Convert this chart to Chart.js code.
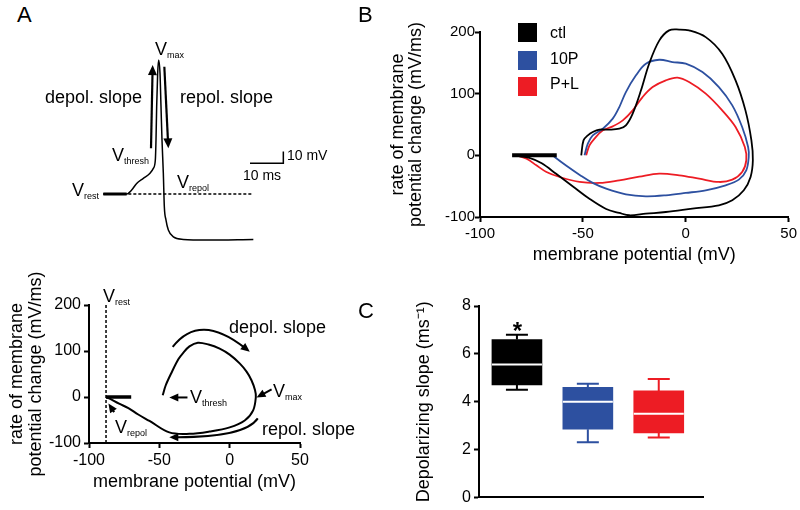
<!DOCTYPE html>
<html>
<head>
<meta charset="utf-8">
<script src="https://cdn.jsdelivr.net/npm/chart.js@4.4.1/dist/chart.umd.min.js"></script>
<style>
  html, body { margin: 0; padding: 0; background: #fff; }
  #page { position: relative; width: 800px; height: 510px; overflow: hidden; font-family: 'Liberation Sans', Arial, sans-serif; color: #000; }
  canvas { position: absolute; }
  .lbl { position: absolute; white-space: nowrap; line-height: 1; font-size: 18px; }
  .lbl sub { font-size: 9px; vertical-align: -3px; line-height: 0; }
  .sm { font-size: 14px; }
  .panel { position: absolute; font-size: 22px; line-height: 1; }
  .sw { position: absolute; left: 518px; width: 19px; height: 19px; }
  .leg { position: absolute; left: 550px; font-size: 16px; line-height: 1; }
</style>
</head>
<body>
<div id="page">
  <canvas id="apTrace" width="200" height="200" style="left:100px;top:50px"></canvas>
  <canvas id="phaseA" width="370" height="250" style="left:0;top:260px"></canvas>
  <canvas id="phaseB" width="430" height="300" style="left:370px;top:0"></canvas>
  <canvas id="slopeC" width="360" height="220" style="left:370px;top:290px"></canvas>

  <div class="panel" style="left:17px;top:4px">A</div>
  <div class="panel" style="left:358px;top:4px">B</div>
  <div class="panel" style="left:358px;top:300px">C</div>

  <!-- A, trace labels -->
  <div class="lbl" style="left:155px;top:39.6px">V<sub>max</sub></div>
  <div class="lbl" style="left:45px;top:87.6px">depol. slope</div>
  <div class="lbl" style="left:180px;top:87.6px">repol. slope</div>
  <div class="lbl" style="left:112px;top:145.6px">V<sub>thresh</sub></div>
  <div class="lbl" style="left:72px;top:180.6px">V<sub>rest</sub></div>
  <div class="lbl" style="left:177px;top:172.6px">V<sub>repol</sub></div>
  <div class="lbl sm" style="left:287px;top:148.2px">10 mV</div>
  <div class="lbl sm" style="left:243px;top:168.2px">10 ms</div>

  <!-- A, phase plot labels -->
  <div class="lbl" style="left:103px;top:286.6px">V<sub>rest</sub></div>
  <div class="lbl" style="left:229px;top:317.6px">depol. slope</div>
  <div class="lbl" style="left:190px;top:387.6px">V<sub>thresh</sub></div>
  <div class="lbl" style="left:273px;top:381.6px">V<sub>max</sub></div>
  <div class="lbl" style="left:262px;top:419.6px">repol. slope</div>
  <div class="lbl" style="left:115px;top:417.6px">V<sub>repol</sub></div>

  <!-- B legend -->
  <div class="sw" style="top:23px;background:#000"></div>
  <div class="sw" style="top:51px;background:#2d50a0"></div>
  <div class="sw" style="top:77px;background:#ed1c24"></div>
  <div class="leg" style="top:24.6px">ctl</div>
  <div class="leg" style="top:51.2px">10P</div>
  <div class="leg" style="top:76.2px">P+L</div>

  <!-- C significance mark -->
  <div class="lbl" style="left:505px;width:25px;text-align:center;top:318.6px;font-size:24px;font-weight:bold">*</div>
</div>

<script>
// ---- A (top): example action potential, time (ms) vs membrane potential (mV)
const apTime = [1, 8, 9.5, 11, 13, 15, 16, 16.6, 16.8, 17, 17.3, 17.6, 18, 18.3, 18.6, 19, 19.3, 19.8, 20.5, 22, 25, 32, 46];
const apVm = [-82.4, -82.4, -79, -73.4, -69.1, -64.8, -60.6, -53.5, -36.5, -8.1, 20.2, 31.5, 20.2, -8.1, -36.5, -64.8, -93.2, -104.6, -113, -118.8, -121, -121.6, -121];
const apRestTime = [1, 8];
const apRestVm = [-82.4, -82.4];
const apBaseTime = [1, 46];
const apBaseVm = [-82.4, -82.4];
const scaleBarTime = [45, 55, 55];
const scaleBarVm = [-56.3, -56.3, -46.3];

// ---- A (bottom): phase plot of the same spike
const phaseVm = [-47.6, -45.5, -41, -36.5, -33.3, -28.6, -22.6, -15, -7.1, 0, 7.1, 12, 15.5, 18, 18.6, 16.7, 10.7, 0, -14.3, -28.6, -42.9, -57, -65, -72, -78.6, -85.7, -87.9];
const phaseDvdt = [3.7, 25, 55, 82, 95, 110, 118, 114, 105, 92, 73, 55, 36.5, 15, 0, -29, -51, -66, -75, -80, -77, -52, -38, -24, -14.5, -3, 0];
const phaseRestVm = [-87.9, -70];
const phaseRestDvdt = [0, 0];
const vrestLineVm = [-87.9, -87.9];
const vrestLineDvdt = [-100, 200];

// ---- B: phase plots per condition
const ctlVm = [-50.8, -49.7, -47.6, -45.2, -42, -37.1, -32.3, -29.1, -25.8, -21.8, -17.8, -12.9, -8.1, -3.2, 1.6, 9.7, 17.7, 24.2, 29, 31.9, 32.6, 31.5, 28.2, 22.6, 16.1, 3.2, -9.7, -19.4, -27.4, -32.3, -38.7, -47, -55, -63, -70, -76, -84];
const ctlDvdt = [0, 24.3, 32.4, 37.8, 41.6, 41.6, 43.2, 48.6, 67.6, 105, 148.6, 186, 202.6, 204, 202.6, 191.7, 164.8, 121.6, 72.9, 24.3, -8.1, -35, -56.7, -72.9, -81, -86.4, -91.9, -94.6, -97.2, -93.4, -87, -70, -50, -30, -13, -4, 0];
const p10Vm = [-49.2, -47.6, -45.2, -40.3, -35.5, -32.3, -29.1, -24.2, -19.4, -12.9, -6.5, 0, 8.1, 16.1, 22.6, 27.4, 30.3, 30.6, 29.4, 25.8, 19.4, 9.7, 0, -9.7, -19.4, -29.1, -38.7, -45, -51, -58, -63.7, -64.5];
const p10Dvdt = [0, 18.9, 32.4, 43.2, 59.5, 78.3, 102.6, 129.7, 148.6, 155, 151.2, 148.6, 135, 110.7, 81, 45.9, 13.5, -2.7, -24.3, -39.4, -48.6, -56.7, -61, -64.8, -66.4, -63.2, -54, -45, -33, -17, -2.7, 0];
const plVm = [-48.4, -46.8, -44.4, -40.3, -35.5, -30.6, -25.8, -21, -16.1, -9.7, -4, 1.6, 9.7, 17.7, 24.2, 28.7, 29.4, 27.4, 22.6, 16.1, 6.5, -3.2, -12.9, -22.6, -32.3, -41.9, -51.6, -61.3, -67.7, -72.6, -77.4, -82.3];
const plDvdt = [0, 16.2, 27, 40.5, 47, 56.7, 72.9, 94.5, 110.7, 121.6, 125.9, 118.8, 100, 72.9, 45.9, 13.5, -8.1, -27, -39.4, -43.2, -37.8, -32.4, -29.7, -34.6, -40.5, -44.8, -43.2, -35.1, -27, -16.2, -5.4, 0];
const restBVm = [-84.4, -62.7];
const restBDvdt = [0, 0];

// ---- C: depolarizing slope box plots (ms^-1)
const groups = ['ctl', '10P', 'P+L'];
const groupPos = [1, 2, 3];
const whiskerLow = [4.5, 2.3, 2.5];
const q1 = [4.7, 2.85, 2.7];
const median = [5.55, 4.0, 3.5];
const q3 = [6.6, 4.6, 4.45];
const whiskerHigh = [6.8, 4.75, 4.95];

const BLUE = '#2d50a0';
const RED = '#ed1c24';
const boxColors = ['#000000', BLUE, RED];

Chart.defaults.font.family = "'Liberation Sans', Arial, sans-serif";
Chart.defaults.color = '#000';
Chart.defaults.animation = false;
Chart.defaults.responsive = false;
Chart.defaults.devicePixelRatio = 1;
Chart.defaults.plugins.legend.display = false;
Chart.defaults.plugins.tooltip.enabled = false;
Chart.defaults.elements.point.radius = 0;

function toPts(xs, ys) {
    return xs.map((v, i) => ({ x: v, y: ys[i] }));
}

function line(xs, ys, color, width, extra) {
    return Object.assign({
        data: toPts(xs, ys),
        showLine: true,
        borderColor: color,
        borderWidth: width,
        tension: 0.35,
        clip: false
    }, extra || {});
}

// arrows given in data units, drawn through the chart scales
const arrowPlugin = {
    id: 'arrows',
    afterDatasetsDraw(chart, args, opts) {
        const { ctx, scales: { x, y } } = chart;
        const hl = opts.head || 9;
        const hw = opts.headWidth || 4;
        ctx.save();
        ctx.strokeStyle = '#000';
        ctx.fillStyle = '#000';
        ctx.lineWidth = opts.width || 2;
        (opts.items || []).forEach(it => {
            const p = it.map(([a, b]) => [x.getPixelForValue(a), y.getPixelForValue(b)]);
            const end = p[p.length - 1];
            const prev = p[p.length - 2];
            const ang = Math.atan2(end[1] - prev[1], end[0] - prev[0]);
            const c = Math.cos(ang), s = Math.sin(ang);
            ctx.beginPath();
            ctx.moveTo(p[0][0], p[0][1]);
            const ex = end[0] - c * hl * 0.7, ey = end[1] - s * hl * 0.7;
            if (p.length === 3) ctx.quadraticCurveTo(p[1][0], p[1][1], ex, ey);
            else ctx.lineTo(ex, ey);
            ctx.stroke();
            ctx.beginPath();
            ctx.moveTo(end[0], end[1]);
            ctx.lineTo(end[0] - hl * c + hw * s, end[1] - hl * s - hw * c);
            ctx.lineTo(end[0] - hl * c - hw * s, end[1] - hl * s + hw * c);
            ctx.closePath();
            ctx.fill();
        });
        ctx.restore();
    }
};

function axis(min, max, step, fontSize, extra) {
    return Object.assign({
        type: 'linear',
        min: min,
        max: max,
        ticks: { stepSize: step, font: { size: fontSize }, color: '#000', padding: 3 },
        grid: { drawOnChartArea: false, drawTicks: true, tickLength: 5, tickWidth: 2, tickColor: '#000' },
        border: { display: true, color: '#000', width: 2 }
    }, extra);
}

// A top: trace with hidden axes
new Chart(document.getElementById('apTrace'), {
    type: 'scatter',
    data: {
        datasets: [
            line(apTime, apVm, '#000', 1.5, { cubicInterpolationMode: 'monotone' }),
            line(apRestTime, apRestVm, '#000', 3, { tension: 0 }),
            line(apBaseTime, apBaseVm, '#000', 1.5, { tension: 0, borderDash: [3, 2] }),
            line(scaleBarTime, scaleBarVm, '#000', 1.5, { tension: 0 })
        ]
    },
    options: {
        layout: { padding: 0 },
        scales: {
            x: { type: 'linear', display: false, min: 0, max: 60 },
            y: { type: 'linear', display: false, min: -130, max: 40 }
        },
        plugins: {
            arrows: {
                head: 10, headWidth: 4.5, width: 2.2,
                items: [
                    [[15.3, -43.6], [15.8, 27.2]],
                    [[19.3, 25.8], [20.5, -43.6]]
                ]
            }
        }
    },
    plugins: [arrowPlugin]
});

// A bottom: phase plot
new Chart(document.getElementById('phaseA'), {
    type: 'scatter',
    data: {
        datasets: [
            line(phaseVm, phaseDvdt, '#000', 2),
            line(phaseRestVm, phaseRestDvdt, '#000', 3.5, { tension: 0 }),
            line(vrestLineVm, vrestLineDvdt, '#000', 1.5, { tension: 0, borderDash: [3, 2] })
        ]
    },
    options: {
        layout: { padding: { top: 45, right: 70, left: 0, bottom: 0 } },
        scales: {
            x: axis(-100, 50, 50, 16, {
                title: { display: true, text: 'membrane potential (mV)', font: { size: 18 }, padding: { top: 0, bottom: 17 } },
                afterFit: s => { s.height = 67; }
            }),
            y: axis(-100, 200, 100, 16, {
                title: { display: true, text: ['rate of membrane', 'potential change (mV/ms)'], font: { size: 18, lineHeight: 1.05 }, padding: { top: 7.5, bottom: 0 } },
                afterFit: s => { s.width = 89; }
            })
        },
        plugins: {
            arrows: {
                head: 9, headWidth: 4, width: 2,
                items: [
                    [[-40.5, 109], [-21.4, 185], [14.3, 98.3]],
                    [[20, -46.5], [10.7, -88], [-42.9, -87.3]],
                    [[-30, -1], [-42.9, -1]],
                    [[29.8, 16.8], [19.1, -1.3]],
                    [[-82.1, -32.8], [-86.2, -14.4]]
                ]
            }
        }
    },
    plugins: [arrowPlugin]
});

// B: three conditions
const bY = axis(-100, 200, 100, 15, {
    title: { display: true, text: ['rate of membrane', 'potential change (mV/ms)'], font: { size: 18, lineHeight: 1.0 }, padding: { top: 19, bottom: 0 } },
    afterFit: s => { s.width = 110; }
});
bY.ticks.padding = 0;

new Chart(document.getElementById('phaseB'), {
    type: 'scatter',
    data: {
        datasets: [
            line(restBVm, restBDvdt, '#000', 4, { tension: 0 }),
            line(ctlVm, ctlDvdt, '#000', 1.8),
            line(p10Vm, p10Dvdt, BLUE, 1.8),
            line(plVm, plDvdt, RED, 1.8)
        ]
    },
    options: {
        layout: { padding: { top: 32, right: 11, left: 0, bottom: 0 } },
        scales: {
            x: axis(-100, 50, 50, 15, {
                title: { display: true, text: 'membrane potential (mV)', font: { size: 18 }, padding: { top: 0, bottom: 34 } },
                afterFit: s => { s.height = 83; }
            }),
            y: bY
        }
    }
});

// C: box plots, boxes are floating bars; whiskers and medians drawn on the same scales
const boxExtras = {
    id: 'boxExtras',
    afterDatasetsDraw(chart) {
        const { ctx, scales: { x, y } } = chart;
        const meta = chart.getDatasetMeta(0);
        ctx.save();
        groupPos.forEach((g, i) => {
            const cx = x.getPixelForValue(g);
            const half = meta.data[i].width / 2;
            const cap = 11;
            ctx.strokeStyle = boxColors[i];
            ctx.lineWidth = 2;
            ctx.beginPath();
            ctx.moveTo(cx, y.getPixelForValue(q3[i]));
            ctx.lineTo(cx, y.getPixelForValue(whiskerHigh[i]));
            ctx.moveTo(cx - cap, y.getPixelForValue(whiskerHigh[i]));
            ctx.lineTo(cx + cap, y.getPixelForValue(whiskerHigh[i]));
            ctx.moveTo(cx, y.getPixelForValue(q1[i]));
            ctx.lineTo(cx, y.getPixelForValue(whiskerLow[i]));
            ctx.moveTo(cx - cap, y.getPixelForValue(whiskerLow[i]));
            ctx.lineTo(cx + cap, y.getPixelForValue(whiskerLow[i]));
            ctx.stroke();
            ctx.strokeStyle = '#fff';
            ctx.beginPath();
            ctx.moveTo(cx - half, y.getPixelForValue(median[i]));
            ctx.lineTo(cx + half, y.getPixelForValue(median[i]));
            ctx.stroke();
        });
        ctx.restore();
    }
};

new Chart(document.getElementById('slopeC'), {
    type: 'bar',
    data: {
        labels: groups,
        datasets: [{
            data: groupPos.map((g, i) => ({ x: g, y: [q1[i], q3[i]] })),
            backgroundColor: boxColors,
            barThickness: 50
        }]
    },
    options: {
        layout: { padding: { top: 16, right: 27, left: 0, bottom: 0 } },
        scales: {
            x: {
                type: 'linear', min: 0.465, max: 3.624, offset: false,
                ticks: { display: false },
                grid: { display: false, offset: false },
                border: { display: true, color: '#000', width: 2 },
                afterFit: s => { s.height = 12; }
            },
            y: axis(0, 8, 2, 16, {
                title: { display: true, text: 'Depolarizing slope (ms⁻¹)', font: { size: 18 }, padding: { top: 43, bottom: 0 } },
                afterFit: s => { s.width = 109; }
            })
        }
    },
    plugins: [boxExtras]
});
</script>
</body>
</html>
